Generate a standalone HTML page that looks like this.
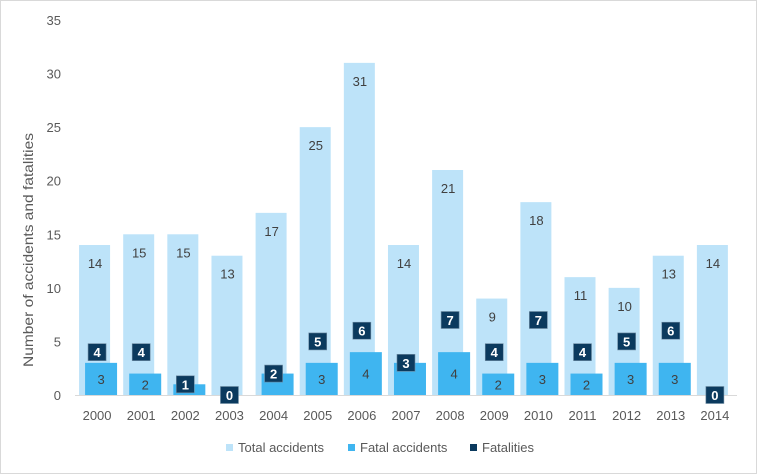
<!DOCTYPE html>
<html><head><meta charset="utf-8"><style>
html,body{margin:0;padding:0;background:#fff;}
svg{display:block;font-family:"Liberation Sans",sans-serif;}
</style></head><body>
<svg id="c" width="757" height="474" viewBox="0 0 757 474" xmlns="http://www.w3.org/2000/svg">
<rect x="0.5" y="0.5" width="756" height="473" fill="#fff" stroke="#d9d9d9"/>
<text transform="translate(33,250) rotate(-90)" text-anchor="middle" font-size="14" fill="#595959" textLength="234" lengthAdjust="spacingAndGlyphs">Number of accidents and fatalities</text>
<g id="g"></g>
<line x1="75" y1="395.5" x2="737" y2="395.5" stroke="#d9d9d9" stroke-width="1"/>
<g id="h"></g>
<rect x="226" y="444" width="7" height="7" fill="#bde3f9"/>
<text x="238" y="452" font-size="13" fill="#595959">Total accidents</text>
<rect x="348" y="444" width="7" height="7" fill="#3fb5f0"/>
<text x="360" y="452" font-size="13" fill="#595959">Fatal accidents</text>
<rect x="470" y="444" width="7" height="7" fill="#0b3a5e"/>
<text x="482" y="452" font-size="13" fill="#595959">Fatalities</text>
</svg>
<script>
var T=[14,15,15,13,17,25,31,14,21,9,18,11,10,13,14];
var F=[3,2,1,0,2,3,4,3,4,2,3,2,3,3,0];
var D=[4,4,1,0,2,5,6,3,7,4,7,4,5,6,0];
var y0=395,k=10.714,s='',h='';
for(var v=0;v<=35;v+=5){s+='<text x="61" y="'+(y0-v*k+5)+'" font-size="13" fill="#595959" text-anchor="end">'+v+'</text>';}
for(var i=0;i<15;i++){
 var c=97.07+44.13*i;
 var th=T[i]*k;
 s+='<rect x="'+(c-18)+'" y="'+(y0-th)+'" width="31" height="'+th+'" fill="#bde3f9"/>';
 if(F[i]>0){var fh=F[i]*k;s+='<rect x="'+(c-12)+'" y="'+(y0-fh)+'" width="32" height="'+fh+'" fill="#3fb5f0"/>';
  if(F[i]!=D[i]) s+='<text x="'+(c+4)+'" y="'+(y0-fh/2+5)+'" font-size="13" fill="#404040" text-anchor="middle">'+F[i]+'</text>';}
 s+='<text x="'+(c-2)+'" y="'+(y0-th+23)+'" font-size="13" fill="#404040" text-anchor="middle">'+T[i]+'</text>';
 var dy=y0-D[i]*k;
 h+='<rect x="'+(c-9)+'" y="'+(dy-8.5)+'" width="18" height="17" fill="#0b3a5e" stroke="#6d8aa0" stroke-width="0.6"/>';
 h+='<text x="'+c+'" y="'+(dy+5)+'" font-size="13" font-weight="bold" fill="#fff" text-anchor="middle">'+D[i]+'</text>';
 s+='<text x="'+c+'" y="'+(y0+25)+'" font-size="13" fill="#595959" text-anchor="middle">'+(2000+i)+'</text>';
}
document.getElementById('g').innerHTML=s;
document.getElementById('h').innerHTML=h;
</script>
</body></html>
